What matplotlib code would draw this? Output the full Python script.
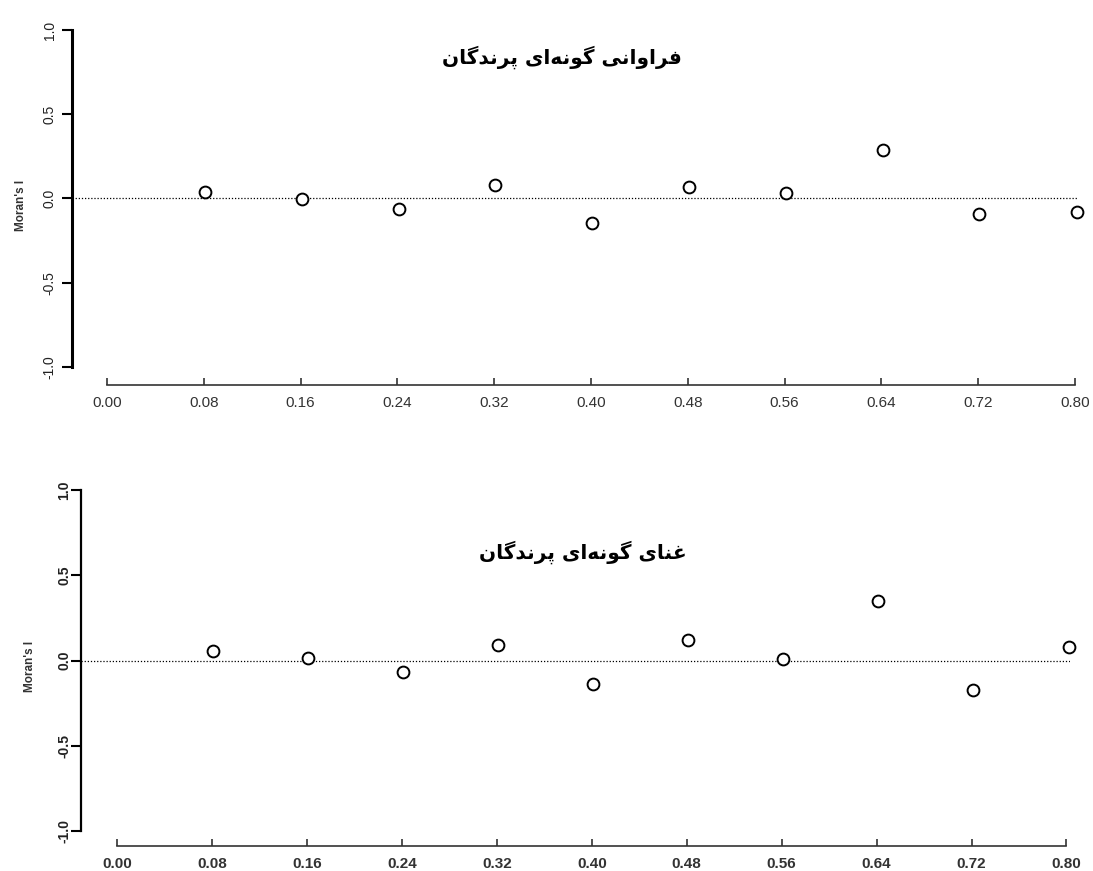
import matplotlib
matplotlib.use('Agg')
import matplotlib.pyplot as plt

# distance classes and Moran's I values
lags_top = [0.081, 0.161, 0.241, 0.321, 0.401, 0.481, 0.561, 0.641, 0.721, 0.802]
moran_top = [0.037, -0.002, -0.065, 0.077, -0.148, 0.068, 0.031, 0.285, -0.093, -0.080]

lags_bottom = [0.081, 0.161, 0.241, 0.321, 0.401, 0.481, 0.561, 0.641, 0.721, 0.802]
moran_bottom = [0.055, 0.012, -0.068, 0.090, -0.135, 0.120, 0.006, 0.350, -0.175, 0.077]

xticks = [0.00, 0.08, 0.16, 0.24, 0.32, 0.40, 0.48, 0.56, 0.64, 0.72, 0.80]
xticklabels = ['0.00', '0.08', '0.16', '0.24', '0.32', '0.40', '0.48', '0.56', '0.64', '0.72', '0.80']
yticks = [-1.0, -0.5, 0.0, 0.5, 1.0]
yticklabels = ['-1.0', '-0.5', '0.0', '0.5', '1.0']

title_top = 'فراوانی گونه\u200cای پرندگان'
title_bottom = 'غنای گونه\u200cای پرندگان'

# minimal persian shaping (matplotlib has no complex text layout)
FORMS = {
    'ف': ('\uFED1', '\uFED2', '\uFED3', '\uFED4'),
    'غ': ('\uFECD', '\uFECE', '\uFECF', '\uFED0'),
    'ن': ('\uFEE5', '\uFEE6', '\uFEE7', '\uFEE8'),
    'ی': ('\uFBFC', '\uFBFD', '\uFBFE', '\uFBFF'),
    'گ': ('\uFB92', '\uFB93', '\uFB94', '\uFB95'),
    'ه': ('\uFEE9', '\uFEEA', '\uFEEB', '\uFEEC'),
    'پ': ('\uFB56', '\uFB57', '\uFB58', '\uFB59'),
    'ر': ('\uFEAD', '\uFEAE'),
    'ا': ('\uFE8D', '\uFE8E'),
    'و': ('\uFEED', '\uFEEE'),
    'د': ('\uFEA9', '\uFEAA'),
}


def shape(text):
    out = []
    n = len(text)
    for i, ch in enumerate(text):
        if ch not in FORMS:
            if ch != '\u200c':
                out.append(ch)
            continue
        prev = text[i - 1] if i > 0 else ''
        nxt = text[i + 1] if i < n - 1 else ''
        join_prev = prev in FORMS and len(FORMS[prev]) == 4
        join_next = len(FORMS[ch]) == 4 and nxt in FORMS
        f = FORMS[ch]
        if join_prev and join_next:
            out.append(f[3])
        elif join_prev:
            out.append(f[1])
        elif join_next:
            out.append(f[2])
        else:
            out.append(f[0])
    return ''.join(reversed(out))


def panel(fig, rect, xlim, x, y, ylim_low, title, title_xy, label_x, bold, ylab_pad, spine_w):
    ax = fig.add_axes(rect)
    ax.axhline(0, color='black', lw=0.9, ls=(0, (1, 1.5)), zorder=1)
    ax.plot(x, y, 'o', ms=8.5, mfc='white', mec='black', mew=1.4, zorder=3, clip_on=False)
    ax.set_xlim(*xlim)
    ax.set_ylim(ylim_low, 1.02)
    for s in ['top', 'right']:
        ax.spines[s].set_visible(False)
    ax.spines['left'].set_bounds(-1, 1)
    ax.spines['left'].set_linewidth(spine_w)
    ax.spines['bottom'].set_bounds(0, 0.8)
    ax.spines['bottom'].set_linewidth(1.2)
    ax.spines['bottom'].set_color('#333333')
    weight = 'bold' if bold else 'normal'
    ax.set_xticks(xticks)
    ax.set_xticklabels(xticklabels, fontsize=11, color='#222222', fontweight=weight, family='Liberation Sans')
    ax.set_yticks(yticks)
    ax.set_yticklabels(yticklabels, fontsize=10, color='#222222', fontweight=weight,
                       family='Liberation Sans', rotation=90, va='center')
    ax.tick_params(axis='x', direction='in', length=5, width=1.2, pad=8, colors='#333333')
    ax.tick_params(axis='y', direction='out', length=7, width=1.5, pad=ylab_pad)
    ax.set_ylabel("Moran's I", fontsize=8.5, color='#333333', fontweight='bold', family='Liberation Sans')
    ax.yaxis.set_label_coords(label_x, 0.5)
    fig.text(title_xy[0], title_xy[1], shape(title), ha='center', va='center',
             fontsize=14.5, fontweight='bold', family=['DejaVu Sans'])
    return ax


fig = plt.figure(figsize=(10.93, 8.71), dpi=100)

top_rect = [72 / 1093, 1 - 385 / 871, (1078 - 72) / 1093, (385 - 26.6) / 871]
bot_rect = [81 / 1093, 1 - 846 / 871, (1070 - 81) / 1093, (846 - 486.6) / 871]

panel(fig, top_rect, (-0.029, 0.8025), lags_top, moran_top, -1.107, title_top,
      (562 / 1093, 1 - 57 / 871), -0.045, False, 4, 2.2)
panel(fig, bot_rect, (-0.0304, 0.803), lags_bottom, moran_bottom, -1.088, title_bottom,
      (583 / 1093, 1 - 552 / 871), -0.045, True, 0, 1.6)

fig.savefig('out.png', dpi=100)
